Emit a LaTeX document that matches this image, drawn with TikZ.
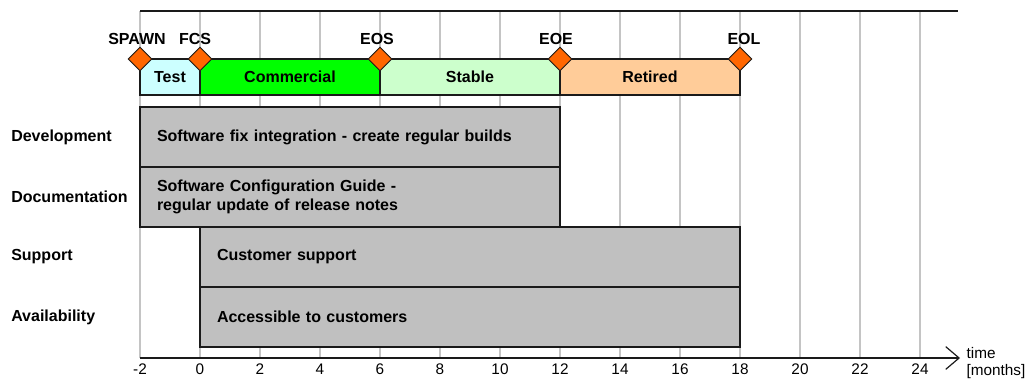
\documentclass[tikz,border=0pt]{standalone}
\usepackage{fontspec}
\setmainfont{Liberation Sans}
\usetikzlibrary{shapes.geometric,arrows.meta}

\definecolor{testfill}{HTML}{CCFFFF}
\definecolor{commfill}{HTML}{00FF00}
\definecolor{stablefill}{HTML}{CCFFCC}
\definecolor{retfill}{HTML}{FFCC99}
\definecolor{milefill}{HTML}{FF6600}
\definecolor{boxfill}{HTML}{C0C0C0}
\definecolor{gridgray}{HTML}{C4C4C4}
\definecolor{edgegray}{HTML}{1A1A1A}

\begin{document}
\begin{tikzpicture}[x=0.75pt,y=-0.75pt,
    bold/.style={font=\fontsize{12pt}{14.4pt}\selectfont\bfseries},
    plain/.style={font=\fontsize{11.5pt}{13pt}\selectfont},
    grid/.style={draw=gridgray,line width=1.1pt},
    phase/.style={bold,draw=edgegray,line width=0.9pt,inner sep=0pt,minimum height=27pt},
    milestone/.style={diamond,draw=edgegray,fill=milefill,line width=0.7pt,inner sep=0pt,
      minimum width=18pt,minimum height=18pt},
    milelabel/.style={bold,inner sep=1pt,label distance=0pt},
    taskbox/.style={bold,draw=edgegray,fill=boxfill,line width=0.9pt,minimum height=45pt,
      inner xsep=12.75pt,text width=#1,align=left},
    rowlabel/.style={bold,anchor=west,inner sep=0pt},
    axis/.style={edgegray,line width=0.9pt,-{Straight Barb[length=10pt,width=17pt]}}]

  \useasboundingbox (0,0) rectangle (1034,383);

  % grid and frame
  \foreach \m in {-2,0,...,24}
    \draw[grid] ({200+30*\m},11) -- ({200+30*\m},358);
  \coordinate (topleft) at (140,11);
  \coordinate (topright) at (958,11);
  \draw[edgegray,line width=0.9pt] (topleft) -- (topright);

  % phases
  \node[phase,fill=testfill,minimum width=45pt]    (test)    at (170,77) {Test};
  \node[phase,fill=commfill,minimum width=135pt]   (comm)    at (290,77) {Commercial};
  \node[phase,fill=stablefill,minimum width=135pt] (stable)  at (470,77) {Stable};
  \node[phase,fill=retfill,minimum width=135pt]    (retired) at (650,77) {Retired};

  % milestones
  \node[milestone,label={[milelabel,xshift=-2.25pt]above:SPAWN}] (spawn) at (140,59) {};
  \node[milestone,label={[milelabel,xshift=-3.75pt]above:FCS}]   (fcs)   at (200,59) {};
  \node[milestone,label={[milelabel,xshift=-2.25pt]above:EOS}]   (eos)   at (380,59) {};
  \node[milestone,label={[milelabel,xshift=-3pt]above:EOE}]      (eoe)   at (560,59) {};
  \node[milestone,label={[milelabel,xshift=3pt]above:EOL}]       (eol)   at (740,59) {};

  % activities
  \node[rowlabel] (devlbl)   at (11,137) {Development};
  \node[rowlabel] (doclbl)   at (11,197) {Documentation};
  \node[rowlabel] (suplbl)   at (11,257) {Support};
  \node[rowlabel] (availlbl) at (11,317) {Availability};

  \node[taskbox=289.5pt] (dev)   at (350,137) {Software fix integration - create regular builds};
  \node[taskbox=289.5pt] (doc)   at (350,197) {Software Configuration Guide -\\regular update of release notes};
  \node[taskbox=379.5pt] (sup)   at (470,257) {Customer support};
  \node[taskbox=379.5pt] (avail) at (470,317) {Accessible to customers};

  % time axis
  \coordinate (origin) at (140,358);
  \coordinate (axisend) at (960,358);
  \draw[axis] (origin) -- (axisend);
  \foreach \m in {-2,0,...,24}
    \node[plain] (tick\m) at ({200+30*\m},369) {\m};
  \node[plain,anchor=west,align=left,inner sep=1pt] (timelbl) at (965,363) {time\\{}[months]};

\end{tikzpicture}
\end{document}
